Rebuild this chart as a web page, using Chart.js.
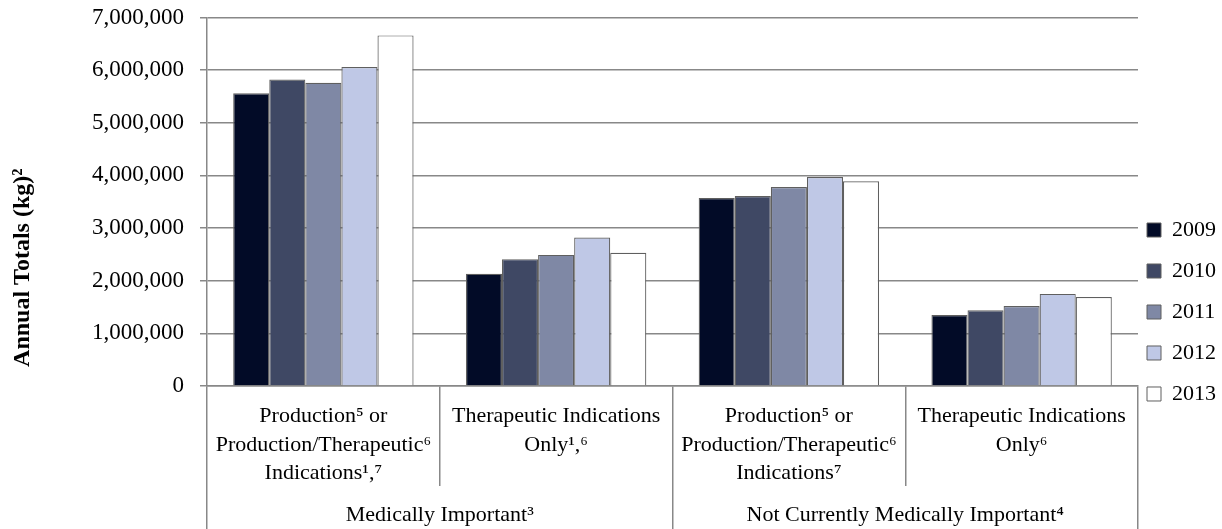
<!DOCTYPE html>
<html>
<head>
<meta charset="utf-8">
<script src="https://cdn.jsdelivr.net/npm/chart.js@4/dist/chart.umd.min.js"></script>
<style>
  html, body { margin: 0; padding: 0; background: #ffffff; }
  #wrap { width: 1222px; height: 529px; }
</style>
</head>
<body>
<div id="wrap"><canvas id="c" width="1222" height="529"></canvas></div>
<script>
const categories = [
  ["Production\u2075 or", "Production/Therapeutic\u2076", "Indications\u00B9,\u2077"],
  ["Therapeutic Indications", "Only\u00B9,\u2076"],
  ["Production\u2075 or", "Production/Therapeutic\u2076", "Indications\u2077"],
  ["Therapeutic Indications", "Only\u2076"]
];
const groups = ["Medically Important\u00B3", "Not Currently Medically Important\u2074"];
const years = ["2009", "2010", "2011", "2012", "2013"];
const v2009 = [5560000, 2130000, 3570000, 1350000];
const v2010 = [5820000, 2410000, 3610000, 1440000];
const v2011 = [5760000, 2490000, 3780000, 1520000];
const v2012 = [6060000, 2820000, 3970000, 1750000];
const v2013 = [6660000, 2530000, 3890000, 1690000];
const yTicks = [0, 1000000, 2000000, 3000000, 4000000, 5000000, 6000000, 7000000];
const yTitle = "Annual Totals (kg)\u00B2";

const colors = ["#020B27", "#3F4864", "#7F88A5", "#BFC8E6", "#FFFFFF"];
const series = [v2009, v2010, v2011, v2012, v2013];
const gridColor = "#888888";
const serif = "'Liberation Serif', 'Times New Roman', serif";

const datasets = years.map((y, i) => ({
  label: y,
  data: series[i],
  backgroundColor: colors[i],
  borderColor: "#5f5f5f",
  borderWidth: 1.2,
  borderSkipped: "bottom",
  categoryPercentage: 0.775,
  barPercentage: 1.0
}));

new Chart(document.getElementById("c"), {
  type: "bar",
  data: { labels: categories, datasets },
  options: {
    responsive: false,
    animation: false,
    layout: { padding: { top: 0, right: 0, bottom: 0, left: 0 } },
    plugins: {
      tooltip: { enabled: false },
      legend: {
        position: "right",
        align: "center",
        maxWidth: 84,
        title: { display: true, text: "", padding: { top: 93, bottom: 0 }, font: { size: 10 } },
        labels: {
          font: { family: serif, size: 22, lineHeight: 1.4545 },
          color: "#000",
          boxWidth: 14,
          boxHeight: 14,
          padding: 9,
          generateLabels: (chart) => chart.data.datasets.map((ds, i) => ({
            text: [ds.label],
            fillStyle: ds.backgroundColor,
            strokeStyle: "#5f5f5f",
            lineWidth: 1,
            datasetIndex: i,
            fontColor: "#000"
          }))
        }
      }
    },
    scales: {
      x: {
        type: "category",
        position: "bottom",
        weight: 0,
        grid: { offset: true, drawOnChartArea: false, drawTicks: true, tickLength: 100, color: gridColor, lineWidth: 1.5 },
        border: { display: true, color: gridColor, width: 1.5 },
        ticks: { font: { family: serif, size: 22, lineHeight: 1.3 }, color: "#000", padding: -84, maxRotation: 0, autoSkip: false },
        afterFit: (s) => { s.height = 100; }
      },
      x2: {
        type: "category",
        position: "bottom",
        weight: 1,
        labels: groups,
        grid: { offset: true, drawOnChartArea: false, drawTicks: true, tickLength: 43, color: gridColor, lineWidth: 1.5 },
        border: { display: false },
        ticks: { font: { family: serif, size: 22, lineHeight: 1.3 }, color: "#000", padding: -28, maxRotation: 0, autoSkip: false },
        afterFit: (s) => { s.height = 43; }
      },
      y: {
        min: 0,
        max: 7000000,
        afterBuildTicks: (s) => { s.ticks = yTicks.map(v => ({ value: v })); },
        grid: { color: gridColor, lineWidth: 1.5, tickLength: 7, drawTicks: true },
        border: { display: true, color: gridColor, width: 1.5 },
        ticks: {
          font: { family: serif, size: 23 },
          color: "#000",
          padding: 16,
          callback: (v) => Number(v).toLocaleString("en-US")
        },
        title: {
          display: true,
          text: yTitle + "\u2003\u2003\u2003\u2003\u2003\u2002",
          font: { family: serif, size: 24, weight: "bold" },
          color: "#000",
          padding: { top: 8, bottom: 0 }
        },
        afterFit: (s) => { s.width = 207; s.paddingTop = 17.5; }
      }
    }
  }
});
</script>
</body>
</html>
